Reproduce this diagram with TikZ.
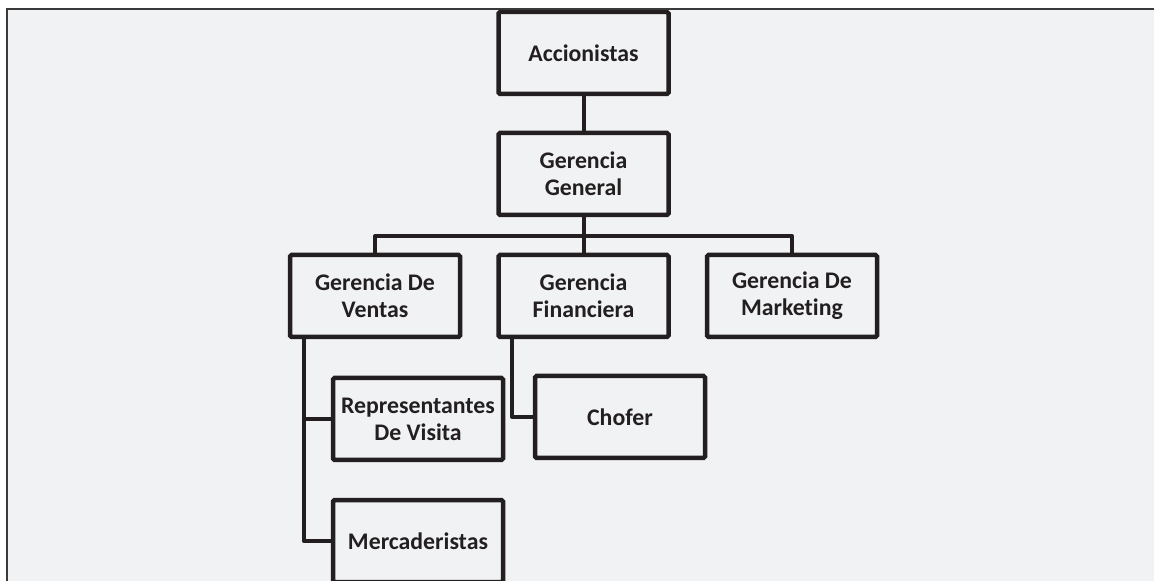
\documentclass[tikz,border=0pt]{standalone}
\usepackage{fontspec}
\setmainfont{Carlito}[Ligatures=NoCommon]
\definecolor{fondo}{HTML}{F1F2F4}
\definecolor{tinta}{HTML}{231F20}
\definecolor{marco}{HTML}{3A3A3A}

\begin{document}
\begin{tikzpicture}[x=0.5pt,y=-0.5pt,
  cargo/.style={draw=tinta,line width=2.25pt,fill=fondo,rounded corners=0.75pt,
    minimum width=85pt,minimum height=41pt,inner sep=1pt,align=center,
    font=\fontsize{11.9}{13.6}\selectfont\bfseries,text=tinta},
  linea/.style={draw=tinta,line width=2pt,line join=round}]
\useasboundingbox (0,0) rectangle (1154,581);
\fill[white] (0,0) rectangle (1154,581);
\fill[fondo] (7,9) rectangle (1154,581);
% organigrama
\node[cargo] (acc) at (583.5,53) {Accionistas};
\node[cargo] (gg) at (583.5,174) {Gerencia\\General};
\node[cargo] (ventas) at (375,296) {Gerencia De\\Ventas};
\node[cargo] (fin) at (583.5,296) {Gerencia\\Financiera};
\node[cargo] (mkt) at (792,296) {Gerencia De\\Marketing};
\node[cargo] (rep) at (418,419) {Representantes\\De Visita};
\node[cargo] (chofer) at (620,417) {Chofer};
\node[cargo] (merc) at (418,541) {Mercaderistas};
\coordinate (bus) at (583.5,236);
\coordinate (vv) at ([xshift=8pt]ventas.south west);
\coordinate (vf) at ([xshift=8pt]fin.south west);
\draw[linea] (acc) -- (gg);
\draw[linea] (gg) -- (bus) -- (fin);
\draw[linea] (ventas.north) |- (bus) -| (mkt.north);
\draw[linea] (vv) |- (merc.west);
\draw[linea] (rep.west) -- (rep.west -| vv);
\draw[linea] (vf) |- (chofer.west);
\draw[marco,line width=0.8pt] (7,600) -- (7,9) -- (1170,9);
\end{tikzpicture}
\end{document}
